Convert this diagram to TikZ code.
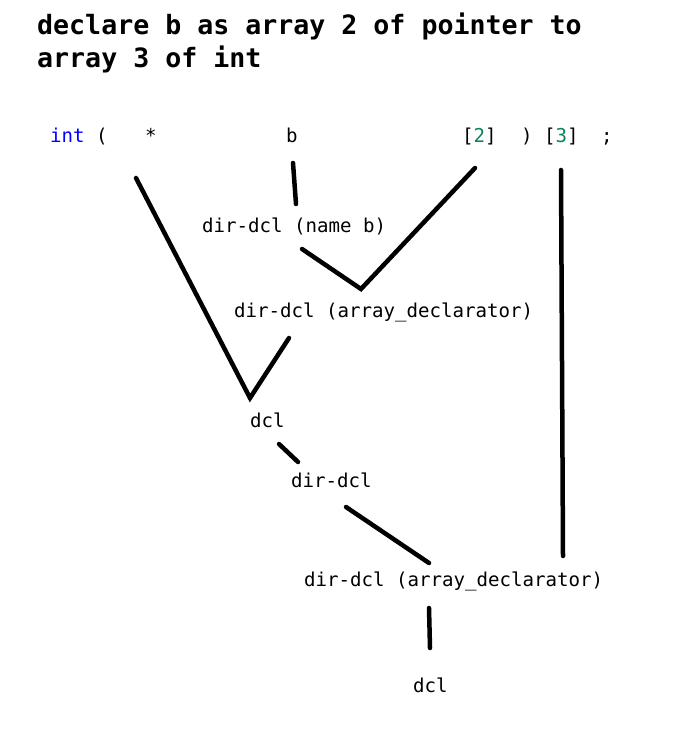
\documentclass[tikz,border=0pt]{standalone}
\usepackage{fontspec}
\newfontfamily\monofont{DejaVu Sans Mono}
\definecolor{kwblue}{HTML}{0000FF}
\definecolor{numgreen}{HTML}{098658}
\begin{document}
\begin{tikzpicture}[x=1pt,y=-1pt,
  title/.style={anchor=base west,inner sep=0pt,font=\monofont\bfseries\fontsize{26.6}{33}\selectfont},
  tok/.style={anchor=base west,inner sep=0pt,font=\monofont\fontsize{19.1}{22}\selectfont},
  link/.style={line width=4.5pt,line cap=round,black}]
\useasboundingbox (0,0) rectangle (693,735);
\fill[white] (0,0) rectangle (693,735);
% title
\node[title] (t1) at (37,35) {declare b as array 2 of pointer to};
\node[title] (t2) at (37,68) {array 3 of int};
% source tokens
\node[tok,text=kwblue] (int) at (50,143) {int};
\node[tok] (lp) at (96,143) {(};
\node[tok] (star) at (145,143) {*};
\node[tok] (b) at (286,143) {b};
\node[tok] (br2) at (462,143) {[\textcolor{numgreen}{2}]};
\node[tok] (rp) at (521,143) {)};
\node[tok] (br3) at (544,143) {[\textcolor{numgreen}{3}]};
\node[tok] (semi) at (601,143) {;};
% tree nodes
\node[tok] (n1) at (202,233) {dir-dcl (name b)};
\node[tok] (n2) at (234,317) {dir-dcl (array\_declarator)};
\node[tok] (n3) at (250,427) {dcl};
\node[tok] (n4) at (291,487) {dir-dcl};
\node[tok] (n5) at (304,586) {dir-dcl (array\_declarator)};
\node[tok] (n6) at (413,692) {dcl};
% connector end points
\coordinate (starE) at (136,178);
\coordinate (dclV) at (250,398);
\coordinate (n2E) at (289,338);
\coordinate (bE) at (293,163);
\coordinate (n1T) at (296,204);
\coordinate (br2E) at (475,168);
\coordinate (n2V) at (361,289);
\coordinate (n1E) at (302,249);
\coordinate (br3E) at (561,170);
\coordinate (n5R) at (563,556);
\coordinate (n3E) at (279,444);
\coordinate (n4T) at (298,462);
\coordinate (n4E) at (346,507);
\coordinate (n5T) at (429,563);
\coordinate (n5E) at (429,608);
\coordinate (n6T) at (430,648);
% connectors
\draw[link] (starE) -- (dclV) -- (n2E);
\draw[link] (bE) -- (n1T);
\draw[link] (br2E) -- (n2V) -- (n1E);
\draw[link] (br3E) -- (n5R);
\draw[link] (n3E) -- (n4T);
\draw[link] (n4E) -- (n5T);
\draw[link] (n5E) -- (n6T);
\end{tikzpicture}
\end{document}
